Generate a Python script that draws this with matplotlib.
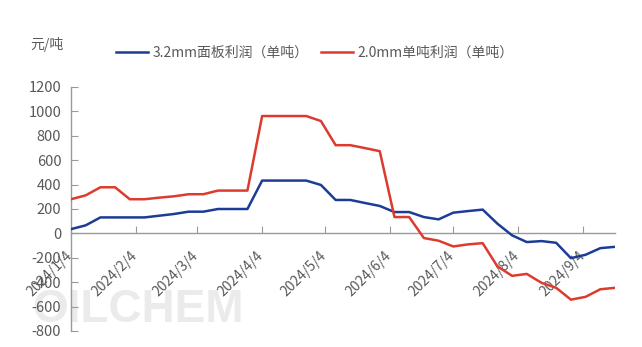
import matplotlib
matplotlib.use('Agg')
import matplotlib.pyplot as plt
import matplotlib.dates as mdates
import matplotlib.transforms as mtransforms
import pandas as pd

plt.rcParams['font.family'] = ['Noto Sans CJK SC', 'DejaVu Sans']
plt.rcParams['axes.unicode_minus'] = False

# weekly data, 2024/1/4 .. 2024/9/19
dates = pd.date_range('2024-01-04', periods=38, freq='7D')
panel_profit = [35, 66, 131, 131, 131, 131, 145, 159, 178, 178,
                200, 200, 200, 433, 433, 433, 433, 397, 274, 274,
                249, 225, 175, 175, 134, 115, 170, 183, 195, 80,
                -16, -71, -63, -77, -203, -175, -121, -110]
ton_profit = [280, 312, 378, 378, 280, 280, 293, 304, 321, 321,
              351, 351, 351, 962, 962, 962, 962, 921, 723, 723,
              699, 674, 134, 134, -38, -60, -107, -90, -80, -270,
              -348, -332, -405, -446, -543, -520, -458, -446]
series_names = ['3.2mm面板利润（单吨）', '2.0mm单吨利润（单吨）']
month_ticks = pd.date_range('2024-01-04', periods=9, freq=pd.DateOffset(months=1))
y_ticks = list(range(-800, 1201, 200))
unit_label = '元/吨'

gray = '#595959'
fig = plt.figure(figsize=(6.42, 3.47), dpi=100)
ax = fig.add_axes([71/642, 1-331/347, (615-71)/642, (331-87)/347])

ax.plot(dates, panel_profit, color='#1d3c96', lw=1.8, label=series_names[0], zorder=3)
ax.plot(dates, ton_profit, color='#dc3b2e', lw=1.8, label=series_names[1], zorder=3)

ax.set_xlim(dates[0], dates[-1])
ax.set_ylim(-800, 1200)
ax.set_yticks(y_ticks)
ax.set_xticks(month_ticks)
ax.xaxis.set_major_formatter(mdates.DateFormatter('%Y/%-m/%-d'))

for s in ['top', 'right']:
    ax.spines[s].set_visible(False)
ax.spines['bottom'].set_position(('data', 0))
for s in ['left', 'bottom']:
    ax.spines[s].set_color('#9a9a9a')
    ax.spines[s].set_linewidth(1.0)

ax.tick_params(axis='y', direction='in', length=5, color='#9a9a9a', labelsize=10.5,
               labelcolor=gray, pad=7)
ax.tick_params(axis='x', direction='in', length=5, color='#9a9a9a', labelsize=10,
               labelcolor=gray, pad=11)
offset = mtransforms.ScaledTranslation(4/100, 0, fig.dpi_scale_trans)
for lab in ax.get_xticklabels():
    lab.set_rotation(45)
    lab.set_ha('right')
    lab.set_transform(lab.get_transform() + offset)

# watermark
ax.text(32/642, 1-322/347, 'OILCHEM', transform=fig.transFigure, fontsize=33,
        color='#ebebeb', fontweight='bold', family='Liberation Sans', zorder=0)

fig.text(30/642, 1-44/347, unit_label, fontsize=10, color=gray, va='center')
fig.legend(loc='center', bbox_to_anchor=(315/642, 1-53/347), ncol=2, frameon=False,
           fontsize=10, handlelength=2.3, handletextpad=0.35, columnspacing=0.85,
           labelcolor=gray)

fig.savefig('out.png', dpi=100)
